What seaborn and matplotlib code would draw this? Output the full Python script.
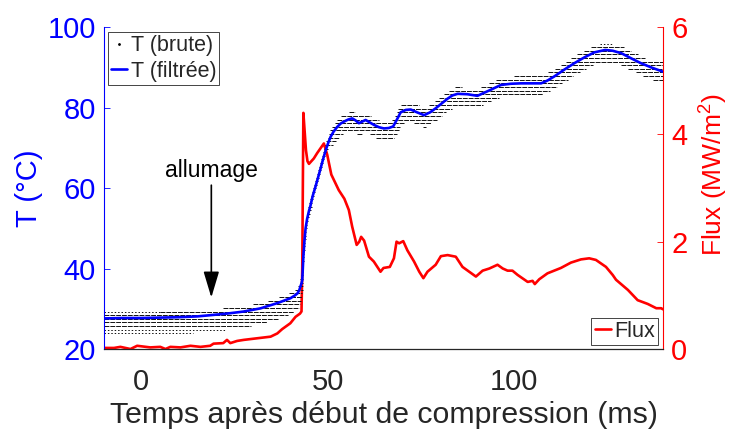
import matplotlib
matplotlib.use("Agg")
import matplotlib.pyplot as plt
from matplotlib.lines import Line2D
import pandas as pd
import seaborn as sns

# Filtered thermocouple temperature (°C) versus time (ms)
t_filt = [-10, -5, 0, 5, 10, 15, 18.5, 23, 27.4, 32, 36.5, 40, 41.2, 41.9, 42.4, 42.7, 43.0,
          43.2, 43.35, 43.5, 43.8, 44.1, 44.5, 45.0, 45.4, 46.0, 46.8, 47.5, 48.1, 48.8, 49.5,
          50.2, 50.8, 51.6, 52.6, 53.5, 54.4, 55.5, 56.6, 57.5, 58.4, 59.3, 60.2, 61.3, 62.4,
          63.8, 65.1, 66.4, 67.6, 68.6, 69.6, 71.0, 72.3, 74.0, 75.9, 77.5, 79.0, 80.6, 82.2,
          83.5, 84.9, 87.5, 90.2, 93.3, 96.5, 99.2, 101.9, 107.3, 109.0, 110.8, 113.5, 116.2,
          119.0, 121.6, 124.5, 126.5, 128.8, 131.5, 134.1, 137.0, 140]
T_filt = [27.6, 27.7, 27.7, 27.8, 27.9, 28.1, 28.4, 28.8, 29.3, 30.1, 31.4, 32.6, 33.3, 33.8, 34.6, 35.5, 36.3,
          37.1, 40.0, 43.0, 47.0, 50.0, 52.3, 54.3, 55.6, 58.0, 60.5, 62.8, 64.8, 67.2, 69.4,
          71.3, 72.7, 74.0, 75.2, 76.0, 76.5, 77.0, 77.3, 76.8, 76.1, 76.5, 76.9, 76.3, 75.7,
          75.1, 74.8, 74.9, 75.3, 77.0, 78.8, 79.4, 79.5, 78.8, 78.1, 78.8, 79.8, 81.0, 82.2,
          83.0, 83.4, 83.3, 82.9, 84.2, 85.6, 85.9, 86.0, 86.0, 86.7, 87.7, 89.4, 91.0,
          92.5, 93.7, 94.3, 94.1, 93.5, 92.2, 91.0, 89.9, 88.9]

# Heat flux (MW/m²) versus time (ms)
t_flux = [-10, -7.3, -5.6, -2.9, -1.1, 2.4, 5.1, 6.5, 7.8, 10.5, 13.2, 15.9, 18.5, 19.4, 22.0,
          23.0, 23.9, 25.7, 27.5, 31.1, 34.7, 36.5, 37.8, 40.0, 41.4, 42.6, 43.0, 43.2, 43.5,
          43.8, 44.2, 44.6, 45.0, 46.3, 47.2, 48.1, 49.0, 49.9, 51.0, 53.0, 54.5, 55.7, 56.6,
          57.8, 58.5, 59.0, 59.8, 61.1, 62.4, 64.2, 65.0, 66.7, 67.8, 68.5, 69.2, 70.3, 71.4,
          73.2, 74.6, 75.7, 76.8, 79.0, 80.4, 82.2, 84.4, 86.2, 88.0, 89.8, 91.6, 93.4, 95.6,
          97.0, 98.3, 99.6, 101.0, 103.7, 105.0, 105.6, 106.8, 109.0, 112.6, 115.3, 118.0,
          120.2, 122.0, 124.7, 126.5, 127.4, 130.6, 133.2, 135.9, 138.2, 139.5, 140]
flux = [0.02, 0.02, 0.04, 0.0, 0.06, 0.03, 0.04, 0.0, 0.04, 0.03, 0.06, 0.04, 0.06, 0.10, 0.11,
        0.17, 0.11, 0.15, 0.17, 0.20, 0.23, 0.29, 0.37, 0.48, 0.60, 0.66, 0.70, 1.50, 4.40,
        4.10, 3.70, 3.50, 3.45, 3.55, 3.65, 3.74, 3.83, 3.62, 3.25, 2.96, 2.80, 2.59, 2.28,
        1.94, 2.00, 2.09, 2.02, 1.72, 1.63, 1.44, 1.51, 1.53, 1.69, 2.00, 1.97, 2.01, 1.84,
        1.63, 1.44, 1.32, 1.44, 1.57, 1.73, 1.75, 1.72, 1.53, 1.44, 1.35, 1.46, 1.50, 1.57,
        1.50, 1.46, 1.46, 1.38, 1.25, 1.27, 1.21, 1.30, 1.41, 1.51, 1.61, 1.67,
        1.69, 1.66, 1.53, 1.38, 1.29, 1.10, 0.91, 0.84, 0.76, 0.76, 0.74]

# Raw temperature: quantised levels (°C) and the time spans (ms) each level is hit
raw_level = [25.7, 26.6, 27.5, 28.4, 29.3, 30.2, 31.1, 32.0, 32.9, 33.8, 34.7, 35.6, 36.5,
             37.4, 38.3, 39.2, 40.1, 41.0, 41.9, 42.8, 43.7, 44.6, 45.5, 46.4, 47.3, 48.2,
             49.1, 50.0, 50.9, 51.8, 52.7, 53.6, 54.5, 55.4, 56.3, 57.2, 58.1, 59.0, 59.9,
             60.8, 61.7, 62.6, 63.5, 64.4, 65.3, 66.2, 67.1, 68.0, 68.9, 69.8,
             70.7, 71.6, 72.5, 72.5, 73.4, 73.4, 73.4, 74.3, 75.2, 75.2, 76.1, 76.1,
             77.0, 77.0, 77.9, 77.9, 78.8, 78.8, 79.7, 80.6, 80.6, 81.5, 82.4, 83.3, 84.2,
             85.1, 85.1, 86.0, 86.9, 86.9, 87.8, 87.8, 88.7, 88.7, 89.6, 89.6, 90.5, 90.5,
             91.4, 92.3, 93.2, 94.1, 95.0]
raw_t0 = [-10, -10, -10, -10, 5, 22, 30, 34, 37, 39.7, 41.3, 42.1, 42.6,
          42.7, 42.95, 43.21, 43.26, 43.32, 43.37, 43.43, 43.48, 43.56, 43.65, 43.74, 43.83, 43.92,
          44.01, 44.10, 44.19, 44.28, 44.37, 44.46, 44.63, 44.87, 45.11, 45.35, 45.60, 45.86, 46.11,
          46.37, 46.63, 46.89, 47.15, 47.41, 47.67, 47.93, 48.19, 48.46, 48.74, 49.01,
          49.3, 49.6, 50.0, 62.9, 50.4, 57.8, 61.3, 50.7, 51.3, 75.5, 51.9, 73.3,
          52.6, 67.4, 53.6, 68.0, 55.8, 68.6, 68.9, 69.6, 77.3, 78.8, 80.0, 81.3, 82.5,
          84.3, 91.1, 93.2, 95.3, 137.3, 100.0, 134.6, 109.2, 132.7, 110.9, 130.6, 112.5, 128.8,
          113.9, 115.4, 116.9, 118.7, 120.6]
raw_t1 = [29.5, 33.7, 36.8, 39.4, 41.1, 42.2, 42.6, 42.9, 43.1, 43.25, 43.3, 43.35, 43.4,
          43.28, 43.33, 43.39, 43.45, 43.5, 43.59, 43.68, 43.77, 43.86, 43.95, 44.04, 44.13, 44.22,
          44.31, 44.40, 44.49, 44.71, 44.95, 45.19, 45.43, 45.69, 45.94, 46.20, 46.46, 46.71, 46.97,
          47.23, 47.49, 47.75, 48.01, 48.28, 48.56, 48.83, 49.10, 49.38, 49.70, 50.05,
          51.5, 52.2, 53.0, 67.9, 54.2, 59.1, 68.6, 69.1, 69.3, 76.3, 70.7, 77.7,
          63.7, 79.3, 61.6, 80.6, 57.3, 81.7, 83.3, 74.5, 91.6, 93.9, 96.0, 107.9, 109.8,
          86.0, 111.5, 112.9, 114.5, 140, 115.9, 140, 117.6, 140, 119.3, 140, 121.2, 140,
          140, 135.3, 133.3, 131.5, 129.6]
# Levels that are only hit now and then
sparse_level = [23.9, 24.8, 29.3, 95.9]
sparse_t0 = [-10, -10, -10, 123.0]
sparse_t1 = [14, 22.5, 5, 126.5]

x_ticks = [0, 50, 100]
T_ticks = [20, 40, 60, 80, 100]
flux_ticks = [0, 2, 4, 6]
ignition_t = 18.8

sns.set_style("white")
plt.rcParams["font.family"] = ["Liberation Sans", "DejaVu Sans"]
plt.rcParams["mathtext.default"] = "regular"

BLUE = (0, 0, 1)
RED = (1, 0, 0)
DARK = "#262626"

fig = plt.figure(figsize=(7.36, 4.32), dpi=100)
ax = fig.add_axes([0.1413, 0.1921, 0.7595, 0.7454])
ax2 = ax.twinx()

# temperature axis drawn above the flux axis
ax.set_zorder(ax2.get_zorder() + 1)
ax.patch.set_visible(False)

# raw signal: densely sampled dots merge into broken horizontal strokes
ax.hlines(raw_level, raw_t0, raw_t1, colors="#111111", lw=0.7,
          linestyles=(0, (5.0, 1.0)), zorder=2)
ax.hlines(sparse_level, sparse_t0, sparse_t1, colors="#111111", lw=0.7,
          linestyles=(0, (1.5, 2.0)), zorder=2)

df_T = pd.DataFrame({"t": t_filt, "T": T_filt})
sns.lineplot(data=df_T, x="t", y="T", ax=ax, color=BLUE, lw=1.9, sort=False,
             estimator=None, zorder=3)

df_F = pd.DataFrame({"t": t_flux, "flux": flux})
sns.lineplot(data=df_F, x="t", y="flux", ax=ax2, color=RED, lw=1.9, sort=False,
             estimator=None)

ax.set_xlim(-10, 140)
ax.set_ylim(20, 100)
ax2.set_ylim(0, 6)
ax.set_xticks(x_ticks)
ax.set_yticks(T_ticks)
ax2.set_yticks(flux_ticks)

ax.set_xlabel("Temps après début de compression (ms)", fontsize=21.8, color=DARK, labelpad=3)
ax.set_ylabel("T (°C)", fontsize=21, color=BLUE, labelpad=3)
ax2.set_ylabel("Flux (MW/m$^2$)", fontsize=19, color=RED)
ax2.yaxis.set_label_coords(1.062, 0.54)

ax.tick_params(axis="x", direction="in", length=4.3, width=0.6, colors=DARK,
               labelsize=21, pad=14)
ax.tick_params(axis="y", direction="in", length=4.3, width=0.6, colors=BLUE,
               labelsize=21, pad=6)
ax2.tick_params(axis="y", direction="in", length=4.3, width=0.6, colors=RED,
                labelsize=21, pad=6)

for a in (ax, ax2):
    a.spines["top"].set_visible(False)
ax.spines["right"].set_visible(False)
ax.spines["left"].set_color(BLUE)
ax.spines["left"].set_linewidth(0.8)
ax.spines["bottom"].set_color(DARK)
ax.spines["bottom"].set_linewidth(0.9)
ax2.spines["left"].set_visible(False)
ax2.spines["bottom"].set_visible(False)
ax2.spines["right"].set_color(RED)
ax2.spines["right"].set_linewidth(0.8)

# ignition marker
ax.annotate("", xy=(ignition_t, 32.8), xytext=(ignition_t, 60.7),
            arrowprops=dict(arrowstyle="-|>,head_length=1.0,head_width=0.3",
                            mutation_scale=16, color="black", lw=1.2,
                            shrinkA=0, shrinkB=0), zorder=4)
ax.text(ignition_t, 64.3, "allumage", fontsize=16.5, ha="center", va="center",
        color="black", zorder=4)

legend_style = dict(fontsize=15.5, frameon=True, fancybox=False, framealpha=1,
                    edgecolor=DARK, handlelength=0.75, handletextpad=0.15,
                    borderpad=0.15, labelspacing=0.2, borderaxespad=0)

h_T = [Line2D([], [], color="black", marker=".", markersize=2, linestyle="None"),
       Line2D([], [], color=BLUE, lw=1.9)]
leg1 = ax.legend(h_T, ["T (brute)", "T (filtrée)"], loc="upper left",
                 bbox_to_anchor=(4 / 559, 1 - 5 / 322), **legend_style)
leg1.get_frame().set_linewidth(0.6)
leg1.set_zorder(10)

h_F = [Line2D([], [], color=RED, lw=1.9)]
leg2 = ax2.legend(h_F, ["Flux"], loc="lower right",
                  bbox_to_anchor=(1 - 5 / 559, 4 / 322), **legend_style)
leg2.get_frame().set_linewidth(0.6)

fig.savefig("out.png", dpi=100)
